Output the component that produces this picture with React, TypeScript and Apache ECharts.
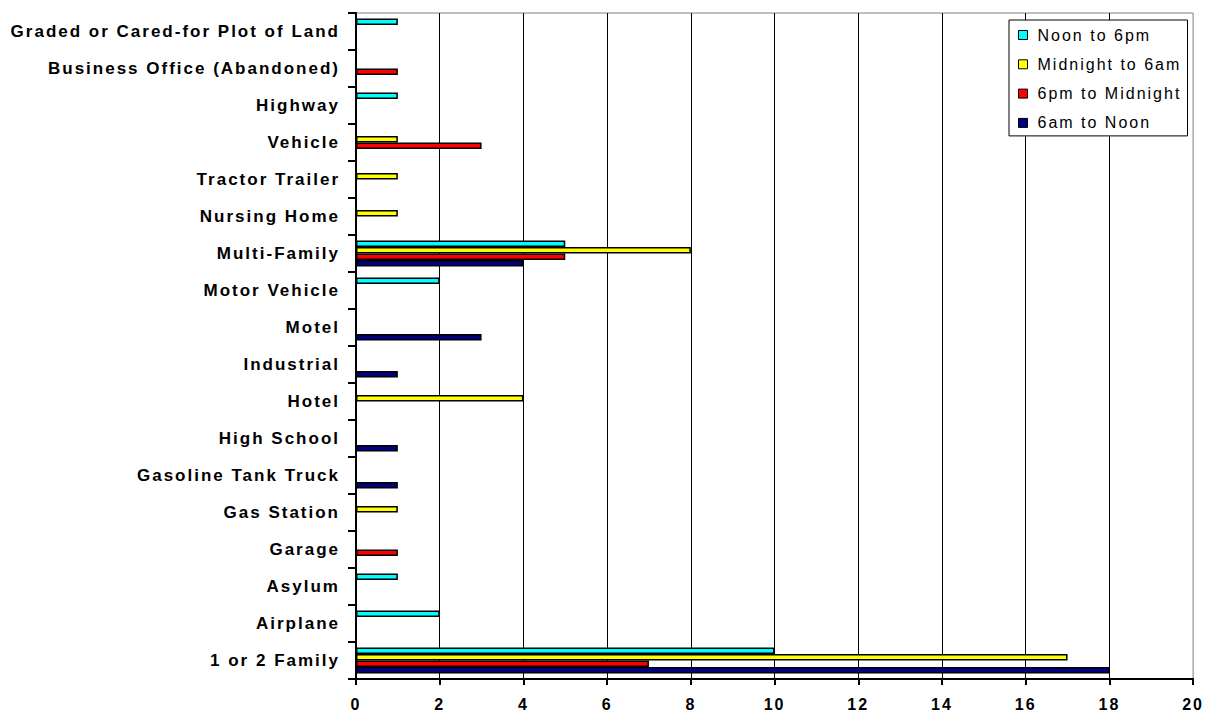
import React, { useEffect, useRef } from "react";
import * as echarts from "echarts";

const categories = [
  "1 or 2 Family",
  "Airplane",
  "Asylum",
  "Garage",
  "Gas Station",
  "Gasoline Tank Truck",
  "High School",
  "Hotel",
  "Industrial",
  "Motel",
  "Motor Vehicle",
  "Multi-Family",
  "Nursing Home",
  "Tractor Trailer",
  "Vehicle",
  "Highway",
  "Business Office (Abandoned)",
  "Graded or Cared-for Plot of Land",
];

const afternoon = [10, 2, 1, 0, 0, 0, 0, 0, 0, 0, 2, 5, 0, 0, 0, 1, 0, 1];
const night = [17, 0, 0, 0, 1, 0, 0, 4, 0, 0, 0, 8, 1, 1, 1, 0, 0, 0];
const evening = [7, 0, 0, 1, 0, 0, 0, 0, 0, 0, 0, 5, 0, 0, 3, 0, 1, 0];
const morning = [18, 0, 0, 0, 0, 1, 1, 0, 1, 3, 0, 4, 0, 0, 0, 0, 0, 0];

const seriesNames = ["Noon to 6pm", "Midnight to 6am", "6pm to Midnight", "6am to Noon"];
const seriesValues = [afternoon, night, evening, morning];
const seriesColors = ["#00FFFF", "#FFFF00", "#FF0000", "#000080"];

export default function App() {
  const ref = useRef<HTMLDivElement>(null);
  useEffect(() => {
    if (!ref.current) return;
    const chart = echarts.init(ref.current, null, { renderer: "svg" });
    const font = "Liberation Sans, Arial, sans-serif";
    chart.setOption({
      animation: false,
      backgroundColor: "#ffffff",
      grid: {
        left: 356,
        right: 9,
        top: 13,
        bottom: 37,
        show: true,
        borderColor: "#808080",
        borderWidth: 1,
        backgroundColor: "transparent",
      },
      legend: {
        data: seriesNames,
        orient: "vertical",
        left: 1009,
        top: 20,
        icon: "rect",
        itemWidth: 9,
        itemHeight: 9,
        itemGap: 13.3,
        padding: [7, 6, 5, 9],
        backgroundColor: "#ffffff",
        borderColor: "#000000",
        borderWidth: 1,
        borderRadius: 0,
        itemStyle: { borderColor: "#000", borderWidth: 1 },
        textStyle: {
          fontFamily: font,
          fontSize: 16,
          color: "#000",
          width: 144,
          lineHeight: 16,
          padding: [0, 0, 0, 5],
        },
      },
      xAxis: {
        type: "value",
        min: 0,
        max: 20,
        interval: 2,
        axisLine: { show: true, lineStyle: { color: "#000", width: 2 } },
        axisTick: { show: true, length: 6, lineStyle: { color: "#000", width: 2 } },
        axisLabel: {
          fontFamily: font,
          fontSize: 16,
          fontWeight: "bold",
          color: "#000",
          margin: 17,
        },
        splitLine: {
          show: true,
          showMinLine: false,
          showMaxLine: false,
          lineStyle: { color: "#000", width: 1 },
        },
      },
      yAxis: {
        type: "category",
        data: categories,
        axisLine: { show: true, lineStyle: { color: "#000", width: 2 } },
        axisTick: { show: true, length: 8, lineStyle: { color: "#000", width: 2 } },
        axisLabel: {
          interval: 0,
          fontFamily: font,
          fontSize: 17,
          fontWeight: "bold",
          color: "#000",
          margin: 16,
        },
        splitLine: { show: false },
      },
      series: seriesNames.map((name, i) => ({
        name,
        type: "bar",
        barWidth: 6.5,
        barGap: "0%",
        itemStyle: { color: seriesColors[i], borderColor: "#000", borderWidth: 1.5 },
        data: seriesValues[i].map((v) => (v === 0 ? null : v)),
      })),
    });
    return () => chart.dispose();
  }, []);
  return (
    <>
      <style>{`#chart text { letter-spacing: 2px; }`}</style>
      <div
        id="chart"
        ref={ref}
        style={{ position: "fixed", left: 0, top: 0, width: 1205, height: 716 }}
      />
    </>
  );
}
